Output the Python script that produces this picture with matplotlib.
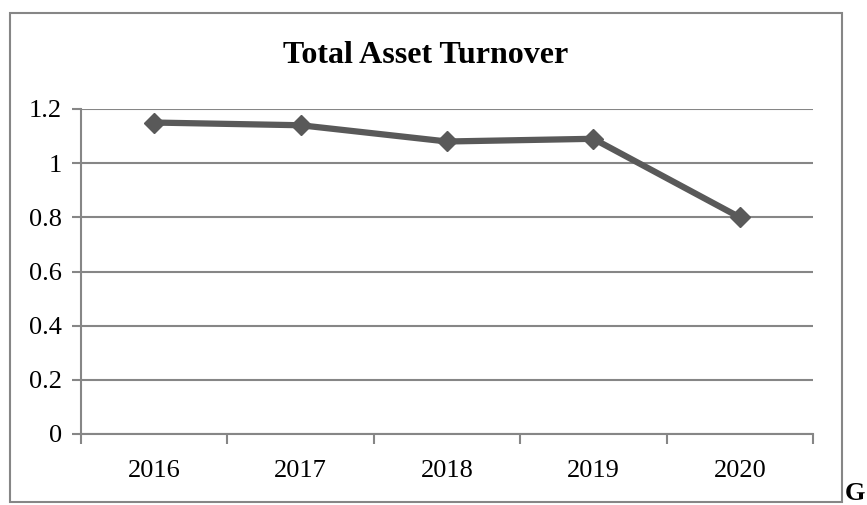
import matplotlib.pyplot as plt
from matplotlib.patches import Rectangle

# data
years = ['2016', '2017', '2018', '2019', '2020']
turnover = [1.15, 1.14, 1.08, 1.09, 0.80]
yticks = [0, 0.2, 0.4, 0.6, 0.8, 1.0, 1.2]
ytick_labels = ['0', '0.2', '0.4', '0.6', '0.8', '1', '1.2']

plt.rcParams['font.family'] = ['Liberation Serif', 'DejaVu Serif']

W, H = 867, 505
fig = plt.figure(figsize=(W / 100, H / 100), dpi=100)

grey = '#868686'
linec = '#595959'

# outer chart border
fig.patches.append(Rectangle((10 / W, 3 / H), 832 / W, 489 / H,
                             transform=fig.transFigure, fill=False,
                             edgecolor=grey, linewidth=1.5))

ax = fig.add_axes([81 / W, 71 / H, 732 / W, 325 / H])
x = list(range(len(years)))
ax.plot(x, turnover, color=linec, linewidth=4.5, marker='D',
        markersize=10, markeredgewidth=1, markeredgecolor=linec,
        markerfacecolor=linec, zorder=3)

ax.set_xlim(-0.5, len(years) - 0.5)
ax.set_ylim(0, 1.2)
ax.set_yticks(yticks)
ax.set_yticklabels(ytick_labels)
ax.set_xticks(x)
ax.set_xticklabels(years)
ax.set_xticks([i - 0.5 for i in range(len(years) + 1)], minor=True)

ax.grid(axis='y', color=grey, linewidth=1.5)
ax.set_axisbelow(True)
for s in ['top', 'right']:
    ax.spines[s].set_visible(False)
for s in ['left', 'bottom']:
    ax.spines[s].set_color(grey)
    ax.spines[s].set_linewidth(1.5)

ax.tick_params(axis='y', length=6.5, width=1.5, color=grey, pad=7,
               labelsize=19)
ax.tick_params(axis='x', which='major', length=0, pad=19, labelsize=19)
ax.tick_params(axis='x', which='minor', length=7, width=1.5, color=grey)

fig.text(426 / W, (H - 63) / H, 'Total Asset Turnover', ha='center',
         va='baseline', fontsize=23, fontweight='bold')

# stray letter at the right edge
fig.text(865 / W, (H - 500) / H, 'G', ha='right', va='baseline',
         fontsize=19, fontweight='bold')

fig.savefig('out.png', dpi=100)
